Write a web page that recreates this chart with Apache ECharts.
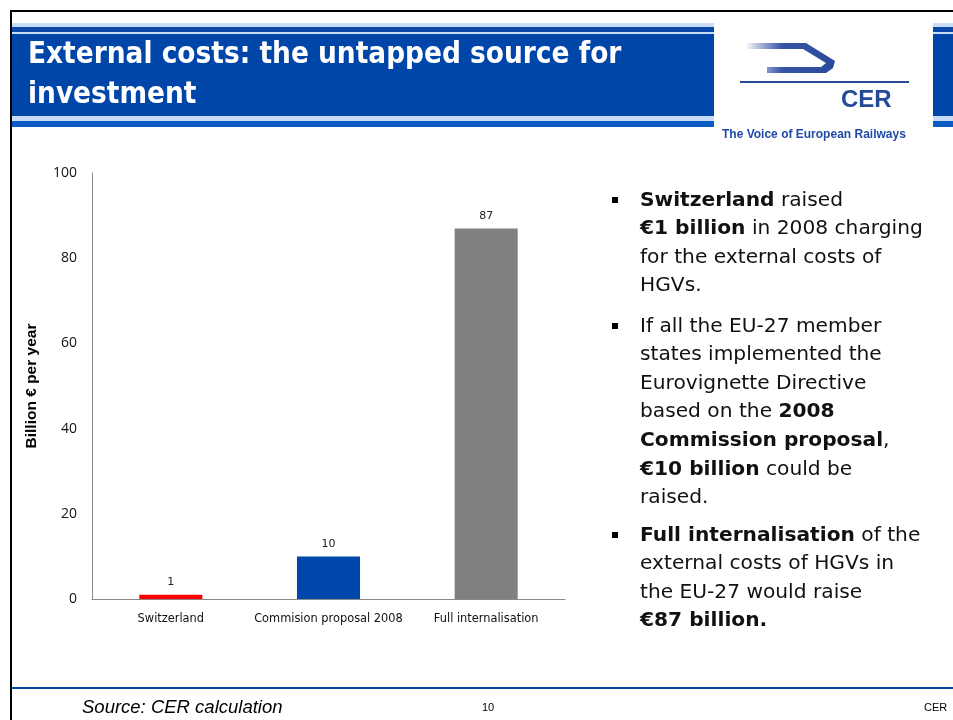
<!DOCTYPE html>
<html><head><meta charset="utf-8">
<script src="https://cdn.jsdelivr.net/npm/echarts@6/dist/echarts.min.js"></script>
<style>html,body{margin:0;padding:0;background:#fff}#c{width:953px;height:720px}</style>
</head><body><div id="c"></div>
<script>
const categories = ['Switzerland', 'Commision proposal 2008', 'Full internalisation'];
const values = [1, 10, 87];
const barColors = ['#ff0000', '#0047ab', '#808080'];
const yTicks = {min: 0, max: 100, interval: 20};

const chart = echarts.init(document.getElementById('c'), null, {renderer: 'canvas'});
const body = '"DejaVu Sans", sans-serif';
const small = '"DejaVu Sans", sans-serif';
const rich = {
  n: {fontFamily: body, fontSize: 20.2, color: '#111', lineHeight: 28.6},
  b: {fontFamily: body, fontSize: 20.2, fontWeight: 'bold', color: '#111', lineHeight: 28.6}
};
function para(y, txt) {
  return {type: 'text', left: 640, top: y, style: {text: txt, rich: rich, fontFamily: body, fontSize: 20, lineHeight: 28.6, fill: '#111'}};
}
function bullet(y) {
  return {type: 'rect', shape: {x: 612, y: y - 3, width: 6, height: 6}, style: {fill: '#000'}};
}
const graphics = [
  {type: 'rect', shape: {x: 10, y: 10, width: 943, height: 2}, style: {fill: '#000'}},
  {type: 'rect', shape: {x: 10, y: 10, width: 2, height: 710}, style: {fill: '#000'}},
  {type: 'rect', shape: {x: 12, y: 23, width: 941, height: 4}, style: {fill: '#c6dcf7'}},
  {type: 'rect', shape: {x: 12, y: 27, width: 941, height: 5}, style: {fill: '#0a47a8'}},
  {type: 'rect', shape: {x: 12, y: 32, width: 941, height: 2}, style: {fill: '#c6dcf7'}},
  {type: 'rect', shape: {x: 12, y: 34, width: 941, height: 82}, style: {fill: '#0046a9'}},
  {type: 'rect', shape: {x: 12, y: 116, width: 941, height: 5}, style: {fill: '#c6dcf7'}},
  {type: 'rect', shape: {x: 12, y: 121, width: 941, height: 6}, style: {fill: '#0a5bc4'}},
  {type: 'rect', shape: {x: 714, y: 22, width: 219, height: 106}, style: {fill: '#fff'}},
  {type: 'polygon', shape: {points: [[747, 43], [806, 43], [835, 61], [833, 68], [826, 73], [767, 73], [767, 67], [821, 67], [826, 63], [803, 49], [747, 49]]},
    style: {fill: {type: 'linear', x: 0, y: 0, x2: 1, y2: 0, colorStops: [{offset: 0, color: 'rgba(40,70,160,0.05)'}, {offset: 0.4, color: '#3455a8'}, {offset: 1, color: '#2a4a9a'}]}}},
  {type: 'line', shape: {x1: 740, y1: 82, x2: 909, y2: 82}, style: {stroke: '#2a4a9a', lineWidth: 2}},
  {type: 'text', left: 841, top: 88, style: {text: 'CER', fontFamily: 'Liberation Sans, sans-serif', fontWeight: 'bold', fontSize: 24, fill: '#244a98'}},
  {type: 'text', left: 722, top: 129, style: {text: 'The Voice of European Railways', fontFamily: 'Liberation Sans, sans-serif', fontWeight: 'bold', fontSize: 12, fill: '#1f4aa8'}},
  {type: 'text', left: 28, top: 35, style: {text: 'External costs: the untapped source for\ninvestment', fontFamily: '"DejaVu Sans Condensed", "Liberation Sans Narrow", sans-serif', fontWeight: 'bold', fontSize: 29.4, lineHeight: 40, fill: '#fff'}},
  bullet(200), bullet(326), bullet(535),
  para(186, '{b|Switzerland}{n| raised}\n{b|€1 billion}{n| in 2008 charging}\n{n|for the external costs of}\n{n|HGVs.}'),
  para(312, '{n|If all the EU-27 member}\n{n|states implemented the}\n{n|Eurovignette Directive}\n{n|based on the }{b|2008}\n{b|Commission proposal}{n|,}\n{b|€10 billion}{n| could be}\n{n|raised.}'),
  para(521, '{b|Full internalisation}{n| of the}\n{n|external costs of HGVs in}\n{n|the EU-27 would raise}\n{b|€87 billion.}'),
  {type: 'rect', shape: {x: 12, y: 687, width: 941, height: 2}, style: {fill: '#0046a9'}},
  {type: 'text', left: 82, top: 698, style: {text: 'Source: CER calculation', fontFamily: 'Liberation Sans, sans-serif', fontStyle: 'italic', fontSize: 18.5, fill: '#000'}},
  {type: 'text', left: 482, top: 702, style: {text: '10', fontFamily: 'Liberation Sans, sans-serif', fontSize: 11, fill: '#000'}},
  {type: 'text', left: 924, top: 702, style: {text: 'CER', fontFamily: 'Liberation Sans, sans-serif', fontSize: 11, fill: '#000'}}
];

chart.setOption({
  animation: false,
  backgroundColor: '#fff',
  grid: {left: 92, right: 388, top: 173, bottom: 121, containLabel: false},
  xAxis: {
    type: 'category', data: categories,
    axisLine: {lineStyle: {color: '#888', width: 1}},
    axisTick: {show: false},
    axisLabel: {interval: 0, fontFamily: small, fontSize: 11.4, color: '#111', margin: 15}
  },
  yAxis: {
    type: 'value', min: yTicks.min, max: yTicks.max, interval: yTicks.interval,
    name: 'Billion € per year', nameLocation: 'middle', nameGap: 52,
    nameTextStyle: {fontFamily: 'Liberation Sans, sans-serif', fontSize: 15.5, fontWeight: 'bold', color: '#000'},
    axisLine: {show: true, lineStyle: {color: '#888', width: 1}},
    axisTick: {show: false},
    splitLine: {show: false},
    axisLabel: {fontFamily: '"Open Sans", sans-serif', fontSize: 14, color: '#111', margin: 15}
  },
  series: [{
    type: 'bar',
    barWidth: '40%',
    data: values.map((v, i) => ({value: v, itemStyle: {color: barColors[i]}})),
    label: {show: true, position: 'top', distance: 7, fontFamily: small, fontSize: 11, color: '#222'}
  }],
  graphic: graphics
});
</script></body></html>
